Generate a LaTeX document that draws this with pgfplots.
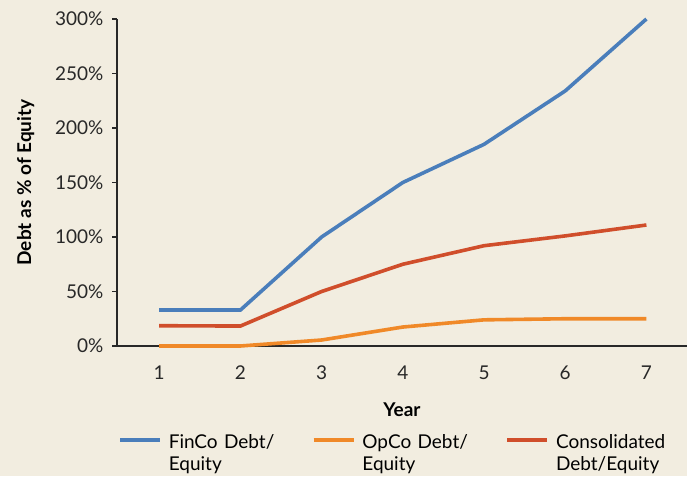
\documentclass[border=0pt]{standalone}
\usepackage{fontspec}
\setmainfont{Lato}
\usepackage{pgfplots}
\pgfplotsset{compat=1.18}
\definecolor{bgcream}{RGB}{242,237,224}
\definecolor{finblue}{RGB}{74,126,187}
\definecolor{oporange}{RGB}{240,137,40}
\definecolor{conred}{RGB}{208,78,43}
\definecolor{axgray}{RGB}{40,40,40}

\begin{document}
\fontsize{19}{22}\selectfont
\begin{tikzpicture}[x=1pt,y=1pt]
\fill[bgcream] (0,0) rectangle (687,476);
\useasboundingbox (0,0) rectangle (687,476);
\begin{axis}[
    at={(117pt,130pt)}, anchor=south west,
    scale only axis,
    width=570pt, height=327pt,
    xmin=0.48, xmax=7.5,
    ymin=0, ymax=300,
    axis x line=bottom, axis y line=left,
    axis line style={-, axgray, line width=1.4pt},
    xtick={1,2,3,4,5,6,7},
    ytick={0,50,100,150,200,250,300},
    x tick style={draw=none},
    y tick style={axgray, line width=1.4pt},
    tick align=outside,
    major tick length=5pt,
    yticklabel={\pgfmathprintnumber{\tick}\%},
    /pgf/number format/assume math mode=true,
    ticklabel style={font=\fontsize{19}{22}\selectfont, text=axgray},
    xticklabel style={yshift=-8pt},
    yticklabel style={xshift=-2pt},
    xlabel={\textbf{Year}},
    ylabel={\textbf{Debt as \% of Equity}},
    xlabel style={font=\fontsize{19}{22}\selectfont, yshift=-10pt},
    ylabel style={font=\fontsize{19}{22}\selectfont, yshift=8pt},
    legend columns=3,
    legend cell align=left,
    legend style={
        at={(0,0)}, anchor=north west, xshift=1pt, yshift=-86pt,
        draw=none, fill=none, inner sep=0pt,
        font=\fontsize{19}{22}\selectfont,
        nodes={text width=131pt, align=left, anchor=north west},
        /tikz/every odd column/.append style={column sep=5pt},
        /tikz/every even column/.append style={column sep=10pt},
    },
    legend image code/.code={\draw[#1] (0pt,-8pt) -- (40pt,-8pt);},
    every axis plot/.append style={line width=3.6pt},
    clip=false,
]
\addplot[finblue] coordinates {
    (1,33) (2,33) (3,100) (4,150) (5,185) (6,234) (7,300)
};
\addplot[oporange] coordinates {
    (1,0) (2,0) (3,5.5) (4,17.4) (5,24) (6,25) (7,25)
};
\addplot[conred] coordinates {
    (1,18.6) (2,18.3) (3,50) (4,75) (5,92) (6,101) (7,111)
};
\legend{FinCo Debt/\\Equity, OpCo Debt/\\Equity, Consolidated\\Debt/Equity}
\end{axis}
\end{tikzpicture}
\end{document}
